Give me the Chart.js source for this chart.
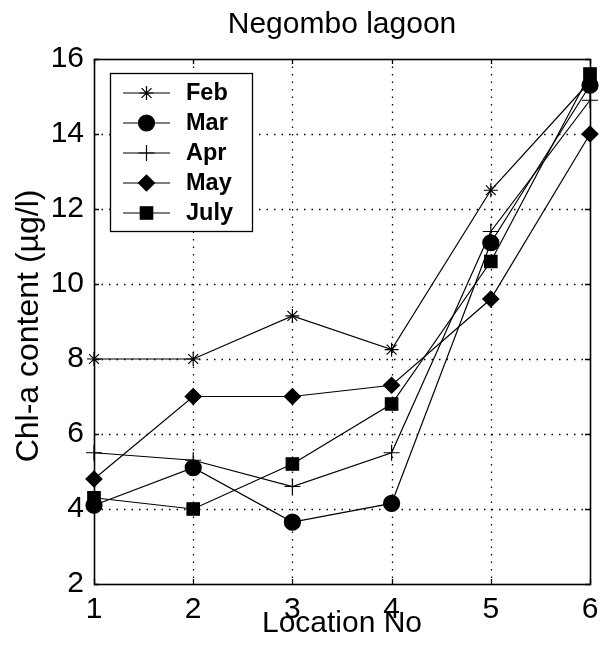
<!DOCTYPE html>
<html>
<head>
<meta charset="utf-8">
<script src="https://cdn.jsdelivr.net/npm/chart.js@4/dist/chart.umd.min.js"></script>
<style>
  html, body { margin: 0; padding: 0; background: #fff; }
  #wrap { width: 600px; height: 650px; }
</style>
</head>
<body>
<div id="wrap"><canvas id="c" width="600" height="650"></canvas></div>
<script>
// ---- data ----
const locations = ['1', '2', '3', '4', '5', '6'];
const seriesNames = ['Feb', 'Mar', 'Apr', 'May', 'July'];
const feb  = [8.0, 8.0, 9.15, 8.25, 12.5, 15.4];
const mar  = [4.1, 5.1, 3.65, 4.15, 11.1, 15.3];
const apr  = [5.5, 5.3, 4.6, 5.5, 11.4, 14.9];
const may  = [4.8, 7.0, 7.0, 7.3, 9.6, 14.0];
const july = [4.3, 4.0, 5.2, 6.8, 10.6, 15.6];
const yTicks = [2, 4, 6, 8, 10, 12, 14, 16];
const titleText = 'Negombo lagoon';
const xTitle = 'Location No';
const yTitle = 'Chl-a content (\u00b5g/l)';

const FONT = "'Liberation Sans', Arial, sans-serif";
const markers = [
  { style: 'star',    radius: 7,   fill: false },
  { style: 'circle',  radius: 8,   fill: true },
  { style: 'cross',   radius: 8,   fill: false },
  { style: 'rectRot', radius: 8,   fill: true },
  { style: 'rect',    radius: 8.8, fill: true }
];
const values = [feb, mar, apr, may, july];

const datasets = values.map((v, i) => ({
  label: seriesNames[i],
  data: v,
  borderColor: '#000',
  backgroundColor: '#000',
  borderWidth: 1.2,
  pointStyle: markers[i].style,
  pointRadius: markers[i].radius,
  pointHoverRadius: markers[i].radius,
  pointBorderWidth: 1.2,
  pointBackgroundColor: markers[i].fill ? '#000' : 'rgba(0,0,0,0)',
  pointBorderColor: '#000',
  tension: 0,
  fill: false,
  clip: false
}));

function drawMarker(ctx, style, r, x, y, filled) {
  ctx.save();
  ctx.beginPath();
  ctx.strokeStyle = '#000';
  ctx.fillStyle = '#000';
  ctx.lineWidth = 1.2;
  const s = Math.SQRT1_2 * r;
  switch (style) {
    case 'circle': ctx.arc(x, y, r, 0, Math.PI * 2); break;
    case 'rect': ctx.rect(x - s, y - s, 2 * s, 2 * s); break;
    case 'rectRot':
      ctx.moveTo(x - r, y); ctx.lineTo(x, y - r); ctx.lineTo(x + r, y); ctx.lineTo(x, y + r); ctx.closePath(); break;
    case 'cross':
      ctx.moveTo(x - r, y); ctx.lineTo(x + r, y); ctx.moveTo(x, y - r); ctx.lineTo(x, y + r); break;
    case 'star':
      ctx.moveTo(x - r, y); ctx.lineTo(x + r, y); ctx.moveTo(x, y - r); ctx.lineTo(x, y + r);
      ctx.moveTo(x - s, y - s); ctx.lineTo(x + s, y + s); ctx.moveTo(x - s, y + s); ctx.lineTo(x + s, y - s); break;
  }
  if (filled) ctx.fill();
  ctx.stroke();
  ctx.restore();
}

const framePlugin = {
  id: 'matlabFrame',
  beforeDatasetsDraw(chart) {
    const { ctx, chartArea: { left, right, top, bottom }, scales: { x, y } } = chart;
    ctx.save();
    ctx.strokeStyle = '#000';
    ctx.lineWidth = 1.3;
    ctx.setLineDash([1.5, 6]);
    yTicks.forEach(v => {
      const py = Math.round(y.getPixelForValue(v)) + 0.5;
      if (Math.abs(py - top) < 2 || Math.abs(py - bottom) < 2) return;
      ctx.beginPath(); ctx.moveTo(left, py); ctx.lineTo(right, py); ctx.stroke();
    });
    locations.forEach((l, i) => {
      const px = Math.round(x.getPixelForValue(i)) + 0.5;
      if (Math.abs(px - left) < 2 || Math.abs(px - right) < 2) return;
      ctx.beginPath(); ctx.moveTo(px, top); ctx.lineTo(px, bottom); ctx.stroke();
    });
    ctx.setLineDash([]);
    ctx.lineWidth = 1.3;
    const tl = 5;
    yTicks.forEach(v => {
      const py = Math.round(y.getPixelForValue(v)) + 0.5;
      ctx.beginPath();
      ctx.moveTo(left, py); ctx.lineTo(left + tl, py);
      ctx.moveTo(right, py); ctx.lineTo(right - tl, py);
      ctx.stroke();
    });
    locations.forEach((l, i) => {
      const px = Math.round(x.getPixelForValue(i)) + 0.5;
      ctx.beginPath();
      ctx.moveTo(px, bottom); ctx.lineTo(px, bottom - tl);
      ctx.moveTo(px, top); ctx.lineTo(px, top + tl);
      ctx.stroke();
    });
    ctx.lineWidth = 1.6;
    ctx.strokeRect(Math.round(left) + 0.5, Math.round(top) + 0.5, Math.round(right - left), Math.round(bottom - top));
    ctx.restore();
  },
  afterDatasetsDraw(chart) {
    const { ctx } = chart;
    const bx = 110, by = 73, bw = 142, bh = 158;
    ctx.save();
    ctx.fillStyle = '#fff';
    ctx.fillRect(bx, by, bw, bh);
    ctx.strokeStyle = '#000';
    ctx.lineWidth = 1.3;
    ctx.strokeRect(bx + 0.5, by + 0.5, bw, bh);
    ctx.font = 'bold 23.5px ' + FONT;
    ctx.textBaseline = 'middle';
    ctx.textAlign = 'left';
    ctx.fillStyle = '#000';
    seriesNames.forEach((name, i) => {
      const cy = by + 20 + i * 30;
      ctx.beginPath();
      ctx.lineWidth = 1.2;
      ctx.moveTo(bx + 13, cy); ctx.lineTo(bx + 60, cy); ctx.stroke();
      drawMarker(ctx, markers[i].style, markers[i].radius, bx + 36.5, cy, markers[i].fill);
      ctx.fillStyle = '#000';
      ctx.fillText(name, bx + 76, cy + 1);
    });
    ctx.restore();
  }
};

new Chart(document.getElementById('c'), {
  type: 'line',
  data: { labels: locations, datasets },
  plugins: [framePlugin],
  options: {
    responsive: false,
    animation: false,
    devicePixelRatio: 1,
    layout: { padding: { left: 0, right: 8, top: 0, bottom: 0 } },
    plugins: {
      legend: { display: false },
      tooltip: { enabled: false },
      title: {
        display: true,
        fullSize: false,
        text: titleText,
        color: '#000',
        font: { family: FONT, size: 30, weight: 'normal', lineHeight: 1 },
        padding: { top: 10, bottom: 19 }
      }
    },
    scales: {
      x: {
        type: 'category',
        offset: false,
        grid: { display: false, drawTicks: false },
        border: { display: false },
        ticks: { color: '#000', font: { family: FONT, size: 30 }, padding: 8, maxRotation: 0, autoSkip: false },
        title: { display: true, text: xTitle, color: '#000', font: { family: FONT, size: 30, lineHeight: 1 }, padding: { top: 0, bottom: 11 } },
        afterFit(scale) { scale.height = 66; scale.paddingLeft = 0; scale.paddingRight = 0; }
      },
      y: {
        type: 'linear',
        min: 2, max: 16,
        afterBuildTicks(scale) { scale.ticks = yTicks.map(v => ({ value: v })); },
        grid: { display: false, drawTicks: false },
        border: { display: false },
        ticks: { color: '#000', font: { family: FONT, size: 30 }, padding: 10 },
        title: { display: true, text: yTitle + ' ', color: '#000', font: { family: FONT, size: 32, lineHeight: 1 }, padding: { top: 13, bottom: 0 } },
        afterFit(scale) { scale.width = 94; scale.paddingTop = 0; scale.paddingBottom = 0; }
      }
    }
  }
});
</script>
</body>
</html>
